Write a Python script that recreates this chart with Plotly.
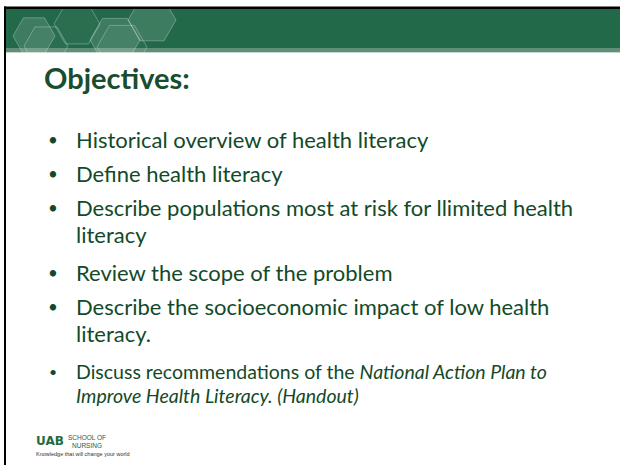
import plotly.graph_objects as go

# ---- content ----
title_text = "Objectives:"
bullet_lines = [
    ["Historical overview of health literacy"],
    ["Define health literacy"],
    ["Describe populations most at risk for llimited health", "literacy"],
    ["Review the scope of the problem"],
    ["Describe the socioeconomic impact of low health", "literacy."],
]
small_bullet_lines = [
    "Discuss recommendations of the <i>National Action Plan to</i>",
    "<i>Improve Health Literacy. (Handout)</i>",
]
logo_main = "UAB"
logo_side = "SCHOOL OF<br>NURSING"
logo_tagline = "Knowledge that will change your world"

# ---- style ----
W, H = 620, 465
BAND = "#226949"
STRIP = "#5f8f77"
TXT = "#124a29"
TITLE = "#1a4d2e"
FONT = "Lato"

fig = go.Figure()
fig.add_trace(go.Scatter(x=[0, W], y=[0, H], mode="markers",
                         marker=dict(opacity=0), hoverinfo="skip", showlegend=False))

shapes = []
shapes.append(dict(type="rect", x0=6, x1=W, y0=9, y1=48, fillcolor=BAND, line_width=0, layer="below"))
shapes.append(dict(type="rect", x0=6, x1=W, y0=48, y1=52, fillcolor=STRIP, line_width=0, layer="below"))
shapes.append(dict(type="line", x0=6, x1=W, y0=52.5, y1=52.5, line=dict(color="#c9d6cf", width=1), layer="below"))

hexes = [
    (34, 36, 21, True),
    (77, 24, 23, False),
    (46, 46, 22, False),
    (115, 40, 25, True),
    (152, 20, 24, True),
    (122, 47, 25, False),
]
def hex_path(cx, cy, r):
    pts = [(cx + r, cy), (cx + r / 2, cy - 0.866 * r), (cx - r / 2, cy - 0.866 * r),
           (cx - r, cy), (cx - r / 2, cy + 0.866 * r), (cx + r / 2, cy + 0.866 * r)]
    return "M " + " L ".join(f"{x:.1f},{y:.1f}" for x, y in pts) + " Z"

for cx, cy, r, filled in hexes:
    shapes.append(dict(type="path", path=hex_path(cx, cy, r),
                       fillcolor="rgba(255,255,255,0.13)" if filled else "rgba(255,255,255,0.04)",
                       line=dict(color="rgba(255,255,255,0.28)", width=1), layer="below"))
shapes.append(dict(type="rect", x0=6, x1=W, y0=53, y1=80, fillcolor="white", line_width=0, layer="below"))
shapes.append(dict(type="rect", x0=6, x1=W, y0=0, y1=7, fillcolor="white", line_width=0, layer="below"))
shapes.append(dict(type="rect", x0=4, x1=W, y0=6.5, y1=9, fillcolor="black", line_width=0, layer="below"))
shapes.append(dict(type="rect", x0=4, x1=6, y0=6.5, y1=H, fillcolor="black", line_width=0, layer="below"))

ann = []
ann.append(dict(x=42, y=77, text=f"<b>{title_text}</b>", showarrow=False, xanchor="left", yanchor="middle",
                font=dict(family=FONT, size=29, color=TITLE)))

big_centers = [139, 173, 207, 272, 306]
wrap_gap = 27
for (lines, yc) in zip(bullet_lines, big_centers):
    ann.append(dict(x=53, y=yc, text="•", showarrow=False, xanchor="center", yanchor="middle",
                    font=dict(family=FONT, size=17, color=TXT)))
    for i, ln in enumerate(lines):
        ann.append(dict(x=74, y=yc + i * wrap_gap, text=ln, showarrow=False, xanchor="left", yanchor="middle",
                        font=dict(family=FONT, size=22, color=TXT)))

small_center = 371
ann.append(dict(x=53, y=small_center, text="•", showarrow=False, xanchor="center", yanchor="middle",
                font=dict(family=FONT, size=14, color=TXT)))
for i, ln in enumerate(small_bullet_lines):
    ann.append(dict(x=74, y=small_center + i * 24, text=ln, showarrow=False, xanchor="left", yanchor="middle",
                    font=dict(family=FONT, size=19.5, color=TXT)))

ann.append(dict(x=34, y=441, text=f"<b>{logo_main}</b>", showarrow=False, xanchor="left", yanchor="middle",
                font=dict(family="DejaVu Sans", size=12, color="#1f6b44")))
ann.append(dict(x=66, y=441, text=logo_side, showarrow=False, xanchor="left", yanchor="middle",
                font=dict(family="Liberation Sans", size=6.5, color="#2b5a3e")))
ann.append(dict(x=34, y=454, text=logo_tagline, showarrow=False, xanchor="left", yanchor="middle",
                font=dict(family="Liberation Sans", size=5.5, color="#333333")))

fig.update_layout(
    width=W, height=H, margin=dict(l=0, r=0, t=0, b=0),
    paper_bgcolor="white", plot_bgcolor="white",
    xaxis=dict(range=[0, W], visible=False, fixedrange=True),
    yaxis=dict(range=[H, 0], visible=False, fixedrange=True),
    shapes=shapes, annotations=ann, showlegend=False, hovermode=False,
)
fig.write_html("out.html", config={"displayModeBar": False, "staticPlot": True},
               post_script="document.body.style.margin='0px';")
